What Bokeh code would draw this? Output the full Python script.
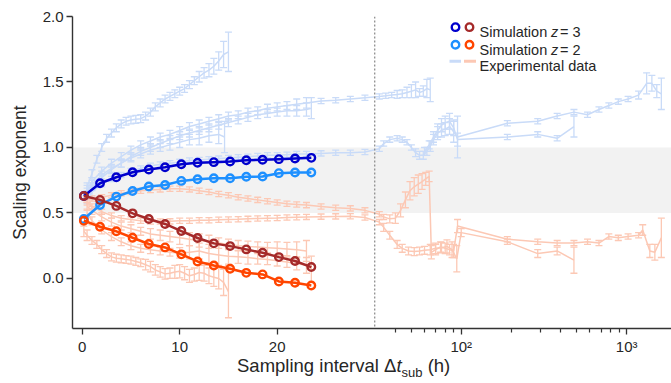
import numpy as np
from bokeh.plotting import figure
from bokeh.layouts import column
from bokeh.models import (ColumnDataSource, Range1d, FixedTicker, NumeralTickFormatter,
                          BoxAnnotation, Span, Whisker, TeeHead, Label, Div)
from bokeh.embed import file_html
from bokeh.resources import INLINE

# ---------------- data ----------------
SIM_X = [0.17, 1.83, 3.5, 5.17, 6.83, 8.5, 10.17, 11.83, 13.5, 15.17, 16.83, 18.5, 20.17, 21.83, 23.5]
SIM_Z3_HIGH = [0.630, 0.727, 0.773, 0.811, 0.832, 0.849, 0.872, 0.883, 0.888, 0.893, 0.903, 0.906, 0.911, 0.916, 0.921]
SIM_Z2_HIGH = [0.454, 0.561, 0.625, 0.668, 0.702, 0.714, 0.745, 0.758, 0.765, 0.765, 0.776, 0.778, 0.804, 0.809, 0.809]
SIM_Z3_LOW = [0.630, 0.600, 0.554, 0.497, 0.454, 0.416, 0.362, 0.309, 0.268, 0.247, 0.222, 0.196, 0.163, 0.133, 0.087]
SIM_Z2_LOW = [0.441, 0.395, 0.360, 0.311, 0.263, 0.237, 0.184, 0.130, 0.099, 0.074, 0.043, 0.031, -0.023, -0.033, -0.054]

BLUE_1_X = [0.5, 1, 1.5, 2, 2.5, 3, 3.5, 4, 4.5, 5, 5.5, 6, 6.5, 7, 7.5, 8, 8.5, 9, 9.5, 10, 10.5, 11, 11.5, 12, 12.5, 13, 13.5, 14, 14.5, 15]
BLUE_1_Y = [0.70, 0.80, 0.91, 1.00, 1.07, 1.11, 1.15, 1.18, 1.20, 1.21, 1.215, 1.22, 1.24, 1.27, 1.31, 1.34, 1.37, 1.39, 1.41, 1.43, 1.45, 1.48, 1.51, 1.54, 1.57, 1.59, 1.62, 1.66, 1.71, 1.73]
BLUE_1_E = [0.03, 0.03, 0.03, 0.03, 0.03, 0.03, 0.03, 0.03, 0.03, 0.03, 0.03, 0.03, 0.03, 0.03, 0.03, 0.03, 0.03, 0.03, 0.03, 0.03, 0.03, 0.03, 0.03, 0.04, 0.04, 0.05, 0.06, 0.07, 0.10, 0.15]

BLUE_2_X = [0.5, 1, 2, 3, 4, 5, 6, 7, 8, 9, 10, 11, 12, 13, 14, 15, 16, 17, 18, 19, 20, 21, 22, 23, 24.5, 26, 27.5, 29,
            32, 35, 38, 41, 44, 47, 50, 53, 56, 59, 62, 65]
BLUE_2_Y = [0.68, 0.74, 0.82, 0.88, 0.93, 0.98, 1.02, 1.05, 1.08, 1.10, 1.13, 1.16, 1.18, 1.20, 1.22, 1.24, 1.25, 1.27, 1.28, 1.30, 1.31, 1.32, 1.33, 1.34, 1.355, 1.36, 1.37, 1.38,
            1.39, 1.395, 1.40, 1.405, 1.41, 1.42, 1.43, 1.44, 1.42, 1.43, 1.45, 1.44]
BLUE_2_E = [0.03, 0.03, 0.03, 0.03, 0.03, 0.03, 0.03, 0.03, 0.03, 0.03, 0.03, 0.03, 0.03, 0.03, 0.03, 0.03, 0.03, 0.03, 0.03, 0.03, 0.03, 0.03, 0.04, 0.04, 0.02, 0.02, 0.02, 0.02,
            0.02, 0.02, 0.02, 0.03, 0.03, 0.04, 0.05, 0.06, 0.03, 0.04, 0.07, 0.09]

BLUE_3_X = [0.5, 1, 2, 3, 4, 5, 6, 7, 8, 9, 10, 11, 12, 13, 14, 14.6]
BLUE_3_Y = [0.66, 0.72, 0.79, 0.84, 0.88, 0.92, 0.95, 0.98, 1.00, 1.02, 1.04, 1.06, 1.07, 1.09, 1.10, 1.08]
BLUE_3_E = [0.03, 0.03, 0.03, 0.03, 0.03, 0.03, 0.03, 0.03, 0.03, 0.04, 0.04, 0.04, 0.05, 0.05, 0.07, 0.12]

BLUE_4_X = [0.5, 1, 2, 3, 4, 5, 6, 7, 8, 9, 10, 11, 12, 13, 14, 15, 16, 17, 18, 19, 20, 21, 22, 23, 23.5]
BLUE_4_Y = [0.64, 0.70, 0.77, 0.83, 0.88, 0.93, 0.97, 1.00, 1.03, 1.06, 1.09, 1.11, 1.13, 1.15, 1.17, 1.19, 1.21, 1.23, 1.25, 1.26, 1.27, 1.28, 1.28, 1.29, 1.30]
BLUE_4_E = [0.03, 0.03, 0.03, 0.03, 0.03, 0.03, 0.03, 0.03, 0.03, 0.03, 0.03, 0.03, 0.03, 0.03, 0.03, 0.03, 0.03, 0.03, 0.03, 0.03, 0.03, 0.04, 0.04, 0.05, 0.08]

BLUE_5_X = [0.5, 1, 2, 3, 4, 5, 6, 7, 8, 9, 10, 11, 12, 13, 14, 15, 16, 17, 18, 19, 20, 21, 22, 23, 24.5, 26, 27.5, 29,
            32, 34, 37, 41, 44, 47, 50, 53, 56, 59, 62, 65, 68, 72, 76, 80, 85, 90, 95,
            190, 290, 380, 480, 580, 680, 780, 890, 1020, 1180, 1320, 1420, 1520, 1620]
BLUE_5_Y = [0.60, 0.66, 0.72, 0.76, 0.79, 0.82, 0.84, 0.86, 0.87, 0.88, 0.89, 0.90, 0.905, 0.91, 0.915, 0.92, 0.925, 0.93, 0.935, 0.94, 0.94, 0.945, 0.95, 0.95, 0.955, 0.96, 0.96, 0.965,
            0.99, 1.03, 1.06, 1.07, 1.06, 1.04, 1.00, 0.96, 0.94, 0.94, 0.97, 1.01, 1.06, 1.11, 1.13, 1.14, 1.16, 1.12, 1.08,
            1.185, 1.20, 1.24, 1.27, 1.25, 1.29, 1.32, 1.35, 1.37, 1.40, 1.49, 1.49, 1.43, 1.41]
BLUE_5_E = [0.03, 0.03, 0.02, 0.02, 0.02, 0.02, 0.02, 0.02, 0.02, 0.02, 0.02, 0.02, 0.02, 0.02, 0.02, 0.02, 0.02, 0.02, 0.02, 0.02, 0.02, 0.02, 0.02, 0.02, 0.02, 0.02, 0.02, 0.02,
            0.02, 0.02, 0.02, 0.02, 0.02, 0.02, 0.02, 0.03, 0.03, 0.03, 0.03, 0.04, 0.04, 0.05, 0.05, 0.05, 0.06, 0.08, 0.16,
            0.02, 0.02, 0.02, 0.02, 0.02, 0.02, 0.02, 0.02, 0.02, 0.03, 0.08, 0.06, 0.05, 0.12]

BLUE_6_X = [60, 64, 68, 72, 76, 80, 85, 90, 95, 190, 290, 380, 480]
BLUE_6_Y = [0.97, 1.02, 1.08, 1.13, 1.17, 1.19, 1.20, 1.15, 1.06, 1.08, 1.10, 1.07, 1.16]
BLUE_6_E = [0.03, 0.03, 0.04, 0.05, 0.05, 0.05, 0.06, 0.06, 0.05, 0.02, 0.02, 0.02, 0.08]

SAL_1_X = [0.17, 0.5, 1, 1.5, 2, 2.5, 3, 3.5, 4, 4.5, 5, 5.5, 6, 6.5, 7, 7.5, 8, 8.5, 9, 9.5, 10, 10.5, 11, 11.5, 12, 12.5, 13, 13.5, 14, 14.5, 15]
SAL_1_Y = [0.36, 0.33, 0.29, 0.26, 0.22, 0.19, 0.165, 0.155, 0.15, 0.145, 0.14, 0.13, 0.12, 0.105, 0.09, 0.065, 0.05, 0.035, 0.04, 0.05, 0.055, 0.04, 0.02, 0.03, 0.045, 0.04, 0.02, 0.01, 0.0, -0.03, -0.10]
SAL_1_E = [0.04, 0.04, 0.03, 0.03, 0.03, 0.03, 0.03, 0.03, 0.03, 0.03, 0.03, 0.03, 0.03, 0.04, 0.04, 0.04, 0.04, 0.04, 0.04, 0.05, 0.05, 0.05, 0.05, 0.05, 0.06, 0.06, 0.06, 0.07, 0.08, 0.10, 0.20]

SAL_2_X = [0.5, 1, 2, 3, 4, 5, 6, 7, 8, 9, 10, 11, 12, 13, 14, 15, 16, 17, 18, 19, 20, 21, 22, 23, 23.5]
SAL_2_Y = [0.50, 0.44, 0.37, 0.32, 0.28, 0.25, 0.23, 0.22, 0.21, 0.20, 0.195, 0.20, 0.21, 0.19, 0.18, 0.17, 0.165, 0.16, 0.15, 0.145, 0.135, 0.125, 0.115, 0.10, 0.07]
SAL_2_E = [0.03, 0.03, 0.03, 0.03, 0.03, 0.03, 0.03, 0.03, 0.03, 0.03, 0.04, 0.05, 0.06, 0.07, 0.08, 0.06, 0.05, 0.05, 0.04, 0.04, 0.04, 0.04, 0.05, 0.06, 0.10]

SAL_3_X = [0.5, 1, 2, 3, 4, 5, 6, 7, 8, 9, 10, 11, 12, 13, 14, 15, 16, 17, 18, 19, 20, 21, 22, 23, 24.5, 26, 27.5, 29,
           32, 34, 37, 40, 43, 46, 49, 52, 55, 58, 61, 64, 66, 70, 75, 80, 85, 90, 95,
           190, 290, 380, 480, 580, 680, 780, 890, 1020, 1180, 1250, 1380, 1480, 1620]
SAL_3_Y = [0.60, 0.61, 0.62, 0.635, 0.65, 0.66, 0.67, 0.675, 0.68, 0.685, 0.685, 0.68, 0.67, 0.66, 0.645, 0.635, 0.62, 0.61, 0.60, 0.59, 0.58, 0.57, 0.565, 0.56, 0.55, 0.54, 0.535, 0.52,
           0.49, 0.47, 0.455, 0.46, 0.52, 0.60, 0.67, 0.70, 0.72, 0.74, 0.76, 0.78, 0.20, 0.22, 0.24, 0.23, 0.22, 0.21, 0.40,
           0.30, 0.28, 0.27, 0.27, 0.28, 0.27, 0.32, 0.31, 0.32, 0.33, 0.37, 0.21, 0.20, 0.31]
SAL_3_E = [0.02, 0.02, 0.02, 0.02, 0.02, 0.02, 0.02, 0.02, 0.02, 0.02, 0.02, 0.02, 0.02, 0.02, 0.02, 0.02, 0.02, 0.02, 0.02, 0.02, 0.02, 0.02, 0.02, 0.02, 0.02, 0.02, 0.02, 0.02,
           0.02, 0.02, 0.03, 0.04, 0.05, 0.06, 0.07, 0.07, 0.07, 0.06, 0.05, 0.04, 0.05, 0.04, 0.04, 0.04, 0.04, 0.05, 0.05,
           0.02, 0.02, 0.02, 0.02, 0.02, 0.02, 0.02, 0.02, 0.02, 0.02, 0.04, 0.05, 0.06, 0.15]

SAL_4_X = [0.5, 1, 2, 3, 4, 5, 6, 7, 8, 9, 10, 11, 12, 13, 14, 15, 16, 17, 18, 19, 20, 21, 22, 23, 24.5, 26, 27.5, 29,
           32, 34, 37, 41, 44, 48, 52, 56, 60, 65, 70, 76, 82, 88, 94,
           100, 190, 290, 380, 480]
SAL_4_Y = [0.58, 0.55, 0.51, 0.48, 0.46, 0.45, 0.44, 0.435, 0.435, 0.436, 0.44, 0.44, 0.445, 0.445, 0.448, 0.45, 0.452, 0.455, 0.458, 0.46, 0.462, 0.465, 0.468, 0.47, 0.472, 0.474, 0.475, 0.465,
           0.43, 0.39, 0.33, 0.26, 0.23, 0.21, 0.205, 0.21, 0.215, 0.22, 0.23, 0.235, 0.245, 0.22, 0.15,
           0.35, 0.28, 0.19, 0.21, 0.14]
SAL_4_E = [0.02, 0.02, 0.02, 0.02, 0.02, 0.02, 0.02, 0.02, 0.02, 0.02, 0.02, 0.02, 0.02, 0.02, 0.02, 0.02, 0.02, 0.02, 0.02, 0.02, 0.02, 0.02, 0.02, 0.02, 0.02, 0.02, 0.02, 0.02,
           0.02, 0.03, 0.03, 0.03, 0.03, 0.03, 0.03, 0.03, 0.03, 0.04, 0.04, 0.04, 0.05, 0.06, 0.10,
           0.03, 0.02, 0.03, 0.03, 0.10]

SAL_5_X = [0.5, 1, 2, 3, 4, 5, 6, 7, 8, 9, 10, 11, 12, 13, 14, 15, 16, 17, 18, 19, 20, 21, 22, 23]
SAL_5_Y = [0.55, 0.52, 0.47, 0.43, 0.40, 0.38, 0.36, 0.34, 0.33, 0.32, 0.31, 0.30, 0.29, 0.28, 0.27, 0.26, 0.25, 0.245, 0.24, 0.235, 0.23, 0.225, 0.22, 0.21]
SAL_5_E = [0.03, 0.03, 0.03, 0.03, 0.03, 0.03, 0.03, 0.04, 0.04, 0.04, 0.05, 0.05, 0.05, 0.05, 0.04, 0.04, 0.04, 0.04, 0.04, 0.04, 0.05, 0.05, 0.06, 0.08]

Y_TICKS = [0.0, 0.5, 1.0, 1.5, 2.0]
X_TICKS_LIN = [0, 10, 20]
X_TICKS_LOG = [100, 1000]
X_TICK_LABELS = ["0", "10", "20", "10\u00b2", "10\u00b3"]
X_MINOR_LOG = [40, 50, 60, 70, 80, 90, 200, 300, 400, 500, 600, 700, 800, 900, 2000]

# ---------------- colours / styles ----------------
C_Z3_HIGH, C_Z3_LOW = "#0000cd", "#a52a2a"
C_Z2_HIGH, C_Z2_LOW = "#1e90ff", "#ff4500"
C_EXP_BLUE, C_EXP_SAL = "#c9dbf8", "#fcc8b4"
FONT = "Liberation Sans"
TXT = "#262626"

# ---------------- broken (linear | log) x scale ----------------
LIN_MAX = 30.0
DECADE = 16.97  # axis units per decade in the log part


def xt(x):
    x = np.asarray(x, dtype=float)
    return np.where(x <= LIN_MAX, x, LIN_MAX + DECADE * np.log10(np.maximum(x, 1e-9) / LIN_MAX))


X0, X1 = -0.995, 60.44
Y0, Y1 = -0.382, 2.0
W = 671
H1, H2 = 357, 26
ML, MR, MT, MB = 72, 0, 16, 28
FW, FH = W - ML - MR, H1 - MT - MB


def px2x(px):
    return X0 + (px - ML) * (X1 - X0) / FW


def py2y(py):
    return Y1 - (py - MT) * (Y1 - Y0) / FH


p = figure(width=W, height=H1, x_range=Range1d(X0, X1), y_range=Range1d(Y0, Y1),
           output_backend="svg", toolbar_location=None,
           min_border_left=ML, min_border_right=MR, min_border_top=MT, min_border_bottom=MB)
p.outline_line_color = None
p.grid.visible = False

# grey band
p.add_layout(BoxAnnotation(bottom=0.5, top=1.0, fill_color="#f2f2f2", fill_alpha=1.0,
                           line_color=None, level="underlay"))

# experimental data
EXP = [(BLUE_1_X, BLUE_1_Y, BLUE_1_E, C_EXP_BLUE), (BLUE_2_X, BLUE_2_Y, BLUE_2_E, C_EXP_BLUE),
       (BLUE_3_X, BLUE_3_Y, BLUE_3_E, C_EXP_BLUE), (BLUE_4_X, BLUE_4_Y, BLUE_4_E, C_EXP_BLUE),
       (BLUE_5_X, BLUE_5_Y, BLUE_5_E, C_EXP_BLUE), (BLUE_6_X, BLUE_6_Y, BLUE_6_E, C_EXP_BLUE),
       (SAL_1_X, SAL_1_Y, SAL_1_E, C_EXP_SAL), (SAL_2_X, SAL_2_Y, SAL_2_E, C_EXP_SAL),
       (SAL_3_X, SAL_3_Y, SAL_3_E, C_EXP_SAL), (SAL_4_X, SAL_4_Y, SAL_4_E, C_EXP_SAL),
       (SAL_5_X, SAL_5_Y, SAL_5_E, C_EXP_SAL)]
for xs, ys, es, c in EXP:
    y = np.asarray(ys, float)
    e = np.asarray(es, float)
    src = ColumnDataSource(dict(x=xt(xs), y=y, lo=y - e, hi=y + e))
    p.add_layout(Whisker(source=src, base="x", lower="lo", upper="hi", dimension="height",
                         line_color=c, line_width=1.3, level="underlay",
                         upper_head=TeeHead(size=7, line_color=c, line_width=1.3),
                         lower_head=TeeHead(size=7, line_color=c, line_width=1.3)))
    p.line("x", "y", source=src, line_color=c, line_width=1.5)

# boundary between linear and log part
p.add_layout(Span(location=float(xt(LIN_MAX)), dimension="height", line_color="#8f8f8f",
                  line_width=1.3, line_dash="2 2", level="overlay"))

# simulations
for ys, c in [(SIM_Z2_HIGH, C_Z2_HIGH), (SIM_Z3_HIGH, C_Z3_HIGH), (SIM_Z2_LOW, C_Z2_LOW), (SIM_Z3_LOW, C_Z3_LOW)]:
    sx = xt(SIM_X)
    p.line(sx, ys, line_color=c, line_width=2.5)
    p.scatter(sx, ys, size=7.5, fill_color=None, line_color=c, line_width=2.4)

# ---------------- legend (hand made) ----------------
LEG_FS = "14.5px"
for (py, c1, c2, num) in [(26.7, C_Z3_HIGH, C_Z3_LOW, "3"), (44.3, C_Z2_HIGH, C_Z2_LOW, "2")]:
    p.scatter([px2x(455), px2x(469)], [py2y(py), py2y(py)], size=7.5, fill_color=None,
              line_color=[c1, c2], line_width=2.4)
    base = py2y(py + 5)
    p.add_layout(Label(x=px2x(479), y=base, text="Simulation", text_font=FONT, text_font_size=LEG_FS,
                       text_color=TXT, text_baseline="alphabetic"))
    p.add_layout(Label(x=px2x(550.5), y=base, text="z", text_font=FONT, text_font_size=LEG_FS,
                       text_font_style="italic", text_color=TXT, text_baseline="alphabetic"))
    p.add_layout(Label(x=px2x(559.5), y=base, text="= " + num, text_font=FONT, text_font_size=LEG_FS,
                       text_color=TXT, text_baseline="alphabetic"))
p.segment(x0=[px2x(449), px2x(463.5)], y0=[py2y(61), py2y(61)],
          x1=[px2x(460.5), px2x(475.5)], y1=[py2y(61), py2y(61)],
          line_color=[C_EXP_BLUE, C_EXP_SAL], line_width=3)
p.add_layout(Label(x=px2x(479), y=py2y(66), text="Experimental data", text_font=FONT,
                   text_font_size=LEG_FS, text_color=TXT, text_baseline="alphabetic"))

# ---------------- axes ----------------
for ax in (p.xaxis[0], p.yaxis[0]):
    ax.axis_line_color = "#333333"
    ax.axis_line_width = 1.4
    ax.major_tick_line_color = "#333333"
    ax.major_tick_line_width = 1.3
    ax.major_tick_out = 6
    ax.major_tick_in = 0
    ax.major_label_text_font = FONT
    ax.major_label_text_font_size = "15px"
    ax.major_label_text_color = TXT

major_x = [float(v) for v in X_TICKS_LIN] + [round(float(xt(v)), 4) for v in X_TICKS_LOG]
minor_x = [round(float(xt(v)), 4) for v in X_MINOR_LOG]
p.xaxis.ticker = FixedTicker(ticks=major_x, minor_ticks=minor_x)
p.xaxis.major_label_overrides = {v: t for v, t in zip(major_x, X_TICK_LABELS)}
p.xaxis.minor_tick_out = 4
p.xaxis.minor_tick_in = 0
p.xaxis.minor_tick_line_color = "#333333"
p.xaxis.minor_tick_line_width = 1.2
p.xaxis.major_label_standoff = 3

p.yaxis.ticker = FixedTicker(ticks=Y_TICKS)
p.yaxis.formatter = NumeralTickFormatter(format="0.0")
p.yaxis.minor_tick_line_color = None
p.yaxis.major_label_standoff = 3
p.yaxis.axis_label = "Scaling exponent"
p.yaxis.axis_label_text_font = FONT
p.yaxis.axis_label_text_font_size = "17.5px"
p.yaxis.axis_label_text_font_style = "normal"
p.yaxis.axis_label_text_color = TXT
p.yaxis.axis_label_standoff = 10

# ---------------- x-axis title (italic t, subscript "sub") as an HTML strip ----------------
X_TITLE_HTML = (
    '<div style="margin-left:237px; margin-top:-2px; white-space:nowrap; '
    "font-family:'Liberation Sans', sans-serif; font-size:18.5px; line-height:1.15; color:#262626;\">"
    'Sampling interval \u0394<i>t</i>'
    '<span style="font-size:13px; vertical-align:-4.5px;">sub</span> (h)</div>'
)
title = Div(text=X_TITLE_HTML, width=W, height=H2, margin=(0, 0, 0, 0))

layout = column(p, title, spacing=0)
open("out.html", "w").write(file_html(layout, INLINE))
